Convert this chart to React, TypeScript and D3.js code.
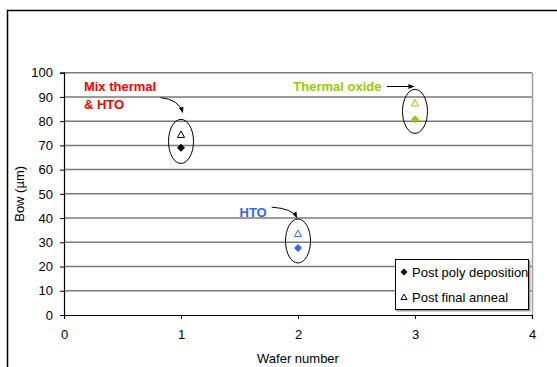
import { useEffect, useRef } from 'react';
import * as d3 from 'd3';

// wafer numbers and measured bow (µm)
const wafers = [1, 2, 3];
const postPolyDeposition = [69, 27.7, 80.8];
const postFinalAnneal = [74.3, 33.4, 87.3];
const waferColors = ['#000000', '#3366ff', '#99cc00'];
const waferLabels = [['Mix thermal', '& HTO'], ['HTO'], ['Thermal oxide']];
const labelColors = ['#ff0000', '#3366ff', '#99cc00'];

const xTicks = [0, 1, 2, 3, 4];
const yTicks = [0, 10, 20, 30, 40, 50, 60, 70, 80, 90, 100];
const legendLabels = ['Post poly deposition', 'Post final anneal'];

const FONT = 'Arial, "Liberation Sans", sans-serif';

function diamond(cx: number, cy: number, r: number) {
  return `M${cx},${cy - r}L${cx + r},${cy}L${cx},${cy + r}L${cx - r},${cy}Z`;
}

function triangle(cx: number, cy: number, r: number) {
  return `M${cx},${cy - r}L${cx + r},${cy + r * 0.85}L${cx - r},${cy + r * 0.85}Z`;
}

export default function App() {
  const svgRef = useRef<SVGSVGElement>(null);

  useEffect(() => {
    if (!svgRef.current) return;
    const svg = d3.select(svgRef.current);
    svg.selectAll('*').remove();

    const x = d3.scaleLinear().domain([0, 4]).range([64, 532]);
    const y = d3.scaleLinear().domain([0, 100]).range([315, 72.7]);

    const defs = svg.append('defs');
    defs.append('marker')
      .attr('id', 'arrow')
      .attr('viewBox', '0 0 10 10')
      .attr('refX', 9)
      .attr('refY', 5)
      .attr('markerWidth', 6)
      .attr('markerHeight', 6)
      .attr('orient', 'auto')
      .append('path')
      .attr('d', 'M0,1L10,5L0,9Z')
      .attr('fill', '#000');

    // outer chart frame
    svg.append('rect')
      .attr('x', 7.5).attr('y', 10.5)
      .attr('width', 600).attr('height', 400)
      .attr('fill', 'none').attr('stroke', '#000').attr('stroke-width', 1.5);

    // gridlines
    svg.append('g')
      .selectAll('line')
      .data(yTicks.slice(1))
      .join('line')
      .attr('x1', x(0)).attr('x2', x(4))
      .attr('y1', d => y(d)).attr('y2', d => y(d))
      .attr('stroke', '#7a7a7a').attr('stroke-width', 1.5);

    // plot area right border
    svg.append('line')
      .attr('x1', x(4) + 0.5).attr('x2', x(4) + 0.5)
      .attr('y1', y(100)).attr('y2', y(0))
      .attr('stroke', '#a0a0a0').attr('stroke-width', 1.5);

    // y axis
    const yAxis = svg.append('g')
      .attr('transform', `translate(${x(0)},0)`)
      .call(d3.axisLeft(y).tickValues(yTicks).tickFormat(d3.format('d')).tickSize(4).tickPadding(7));
    yAxis.select('.domain').attr('stroke', '#000').attr('stroke-width', 1.2);
    yAxis.selectAll('line').attr('stroke', '#000');
    yAxis.selectAll('text').attr('font-family', FONT).attr('font-size', 13).attr('fill', '#000');

    // x axis
    const xAxis = svg.append('g')
      .attr('transform', `translate(0,${y(0)})`)
      .call(d3.axisBottom(x).tickValues(xTicks).tickFormat(d3.format('d')).tickSize(4).tickPadding(11));
    xAxis.select('.domain').attr('stroke', '#000').attr('stroke-width', 1.2);
    xAxis.selectAll('line').attr('stroke', '#000');
    xAxis.selectAll('text').attr('font-family', FONT).attr('font-size', 13).attr('fill', '#000');

    // axis titles
    svg.append('text')
      .attr('x', (x(0) + x(4)) / 2).attr('y', 363)
      .attr('text-anchor', 'middle')
      .attr('font-family', FONT).attr('font-size', 13)
      .text('Wafer number');

    svg.append('text')
      .attr('transform', `translate(24,${(y(0) + y(100)) / 2}) rotate(-90)`)
      .attr('text-anchor', 'middle')
      .attr('font-family', FONT).attr('font-size', 13)
      .text('Bow (µm)');

    // ellipses around each wafer
    svg.append('g')
      .selectAll('ellipse')
      .data(wafers)
      .join('ellipse')
      .attr('cx', d => x(d))
      .attr('cy', (d, i) => y((postPolyDeposition[i] + postFinalAnneal[i]) / 2))
      .attr('rx', 12.5).attr('ry', 22)
      .attr('fill', 'none').attr('stroke', '#000').attr('stroke-width', 1);

    // points
    svg.append('g')
      .selectAll('path')
      .data(wafers)
      .join('path')
      .attr('d', (d, i) => diamond(x(d), y(postPolyDeposition[i]), 4))
      .attr('fill', (d, i) => waferColors[i]);

    svg.append('g')
      .selectAll('path')
      .data(wafers)
      .join('path')
      .attr('d', (d, i) => triangle(x(d), y(postFinalAnneal[i]) - 0.5, 3.5))
      .attr('fill', 'none')
      .attr('stroke', (d, i) => waferColors[i]).attr('stroke-width', 1);

    // annotations
    const anno = svg.append('g').attr('font-family', FONT).attr('font-size', 13).attr('font-weight', 'bold');
    anno.append('text')
      .attr('x', x(0.17)).attr('y', y(92.5)).attr('fill', labelColors[0])
      .selectAll('tspan').data(waferLabels[0]).join('tspan')
      .attr('x', x(0.17)).attr('dy', (d, i) => (i === 0 ? 0 : 18.5))
      .text(d => d);
    anno.append('text')
      .attr('x', x(1.5)).attr('y', y(40.3)).attr('fill', labelColors[1])
      .text(waferLabels[1][0]);
    anno.append('text')
      .attr('x', x(1.96)).attr('y', y(92.5)).attr('fill', labelColors[2])
      .text(waferLabels[2][0]);

    const arrows = [
      `M${x(0.825)},${y(89.7)} Q${x(0.98)},${y(89)} ${x(1.015)},${y(83.6)}`,
      `M${x(1.775)},${y(44.5)} Q${x(1.95)},${y(44)} ${x(1.99)},${y(40.3)}`,
      `M${x(2.76)},${y(94.3)} L${x(2.99)},${y(94.3)}`,
    ];
    svg.append('g')
      .selectAll('path')
      .data(arrows)
      .join('path')
      .attr('d', d => d)
      .attr('fill', 'none').attr('stroke', '#000').attr('stroke-width', 1)
      .attr('marker-end', 'url(#arrow)');

    // legend
    const legend = svg.append('g').attr('transform', 'translate(395,259)');
    legend.append('rect')
      .attr('x', 1.5).attr('y', 1.5).attr('width', 134).attr('height', 51)
      .attr('fill', '#a0a0a0');
    legend.append('rect')
      .attr('x', 0.5).attr('y', 0.5).attr('width', 133).attr('height', 50)
      .attr('fill', '#fff').attr('stroke', '#000').attr('stroke-width', 1);
    legend.append('path').attr('d', diamond(9, 13, 3.5)).attr('fill', '#000');
    legend.append('path').attr('d', triangle(9, 38, 3)).attr('fill', 'none').attr('stroke', '#000');
    legend.selectAll('text.lbl')
      .data(legendLabels)
      .join('text')
      .attr('class', 'lbl')
      .attr('x', 17).attr('y', (d, i) => 17.5 + i * 25)
      .attr('font-family', FONT).attr('font-size', 13)
      .text(d => d);
  }, []);

  return (
    <svg
      ref={svgRef}
      width={557}
      height={367}
      style={{ position: 'absolute', left: 0, top: 0, background: '#fff' }}
    />
  );
}
